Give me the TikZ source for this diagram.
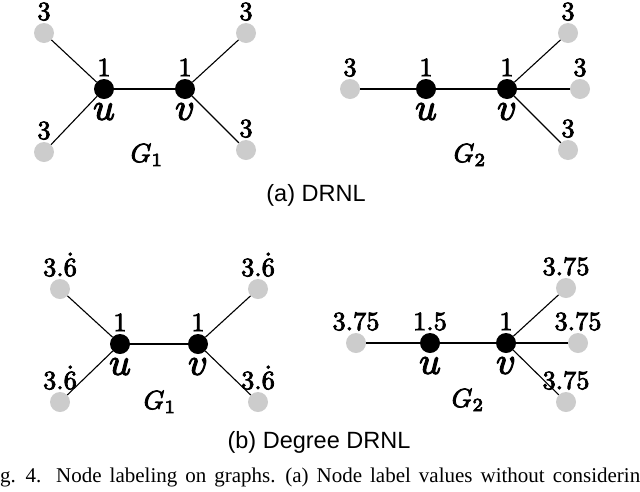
\documentclass[tikz,border=0pt]{standalone}
\usepackage{amsmath,amssymb}
\usepackage{graphicx}
\usepackage[no-math]{fontspec}
\setsansfont{Liberation Sans}
\newfontfamily\capserif{Liberation Serif}
\usepackage{tikz}

% scaled-up math labels, drawn a little heavier (fill + stroke)
\newcommand{\heavy}[1]{\special{pdf:literal direct 2 Tr 0.3 w}#1\special{pdf:literal direct 0 Tr}}
\newcommand{\lbl}[1]{\scalebox{2.64}{\heavy{$#1$}}}
\newcommand{\vlbl}[1]{\scalebox{3.8}{\heavy{$#1$}}}

\begin{document}
\begin{tikzpicture}[
    x=1pt, y=-1pt,
    leaf/.style={circle, fill=black!20, minimum size=20pt, inner sep=0pt},
    hub/.style={circle, fill=black, minimum size=20pt, inner sep=0pt},
    val/.style={inner sep=2.5pt},
    vname/.style={inner sep=4pt},
    link/.style={line width=1.1pt},
    subcap/.style={font=\sffamily\fontsize{23.5}{28}\selectfont, anchor=base, inner sep=0pt}
]
\useasboundingbox (0,0) rectangle (640,491);
\clip (0,0) rectangle (640,491);

% (a) DRNL, G1
\node[hub, label={[val]above:\lbl{1}}, label={[vname]below:\vlbl{u}}] (au1) at (104,89) {};
\node[hub, label={[val]above:\lbl{1}}, label={[vname]below:\vlbl{v}}] (av1) at (185,89) {};
\node[leaf, label={[val]above:\lbl{3}}] (atl1) at (44,33) {};
\node[leaf, label={[val]above:\lbl{3}}] (abl1) at (44,152) {};
\node[leaf, label={[val]above:\lbl{3}}] (atr1) at (246,33) {};
\node[leaf, label={[val]above:\lbl{3}}] (abr1) at (246,150) {};
\node[val] (ag1) at (147,155) {\lbl{G_1}};

% (a) DRNL, G2
\node[hub, label={[val]above:\lbl{1}}, label={[vname]below:\vlbl{u}}] (au2) at (426,89) {};
\node[hub, label={[val]above:\lbl{1}}, label={[vname]below:\vlbl{v}}] (av2) at (507,89) {};
\node[leaf, label={[val]above:\lbl{3}}] (al2) at (350,89) {};
\node[leaf, label={[val]above:\lbl{3}}] (atr2) at (568,33) {};
\node[leaf, label={[val]above:\lbl{3}}] (amr2) at (580,89) {};
\node[leaf, label={[val]above:\lbl{3}}] (abr2) at (568,150) {};
\node[val] (ag2) at (470,155) {\lbl{G_2}};

% (b) Degree DRNL, G1
\node[hub, label={[val]above:\lbl{1}}, label={[vname]below:\vlbl{u}}] (bu1) at (120,344) {};
\node[hub, label={[val]above:\lbl{1}}, label={[vname]below:\vlbl{v}}] (bv1) at (198,344) {};
\node[leaf, label={[val]above:\lbl{3.\dot{6}}}] (btl1) at (60,289) {};
\node[leaf, label={[val]above:\lbl{3.\dot{6}}}] (bbl1) at (60,402) {};
\node[leaf, label={[val]above:\lbl{3.\dot{6}}}] (btr1) at (258,289) {};
\node[leaf, label={[val]above:\lbl{3.\dot{6}}}] (bbr1) at (258,402) {};
\node[val] (bg1) at (160,402) {\lbl{G_1}};

% (b) Degree DRNL, G2
\node[hub, label={[val]above:\lbl{1.5}}, label={[vname]below:\vlbl{u}}] (bu2) at (430,343) {};
\node[hub, label={[val]above:\lbl{1}}, label={[vname]below:\vlbl{v}}] (bv2) at (506,343) {};
\node[leaf, label={[val]above:\lbl{3.75}}] (bl2) at (356,343) {};
\node[leaf, label={[val]above:\lbl{3.75}}] (btr2) at (566,288) {};
\node[leaf, label={[val]above:\lbl{3.75}}] (bmr2) at (578,343) {};
\node[leaf, label={[val]above:\lbl{3.75}}] (bbr2) at (566,402) {};
\node[val] (bg2) at (468,400) {\lbl{G_2}};

% Edges
\draw[link] (atl1) -- (au1);
\draw[link] (abl1) -- (au1);
\draw[link] (au1) -- (av1);
\draw[link] (av1) -- (atr1);
\draw[link] (av1) -- (abr1);
\draw[link] (al2) -- (au2);
\draw[link] (au2) -- (av2);
\draw[link] (av2) -- (atr2);
\draw[link] (av2) -- (amr2);
\draw[link] (av2) -- (abr2);
\draw[link] (btl1) -- (bu1);
\draw[link] (bbl1) -- (bu1);
\draw[link] (bu1) -- (bv1);
\draw[link] (bv1) -- (btr1);
\draw[link] (bv1) -- (bbr1);
\draw[link] (bl2) -- (bu2);
\draw[link] (bu2) -- (bv2);
\draw[link] (bv2) -- (btr2);
\draw[link] (bv2) -- (bmr2);
\draw[link] (bv2) -- (bbr2);

% Sub-captions
\node[subcap] (capa) at (316,201) {(a) DRNL};
\node[subcap] (capb) at (319,448) {(b) Degree DRNL};

% Figure caption (cut off at the edges)
\node[anchor=base west, inner sep=0pt, font=\capserif\fontsize{21}{25}\selectfont] (fig) at (-17.5,482)
  {\spaceskip=8pt Fig. 4.\hspace{5pt} Node labeling on graphs. (a) Node label values without considering};
\end{tikzpicture}
\end{document}
